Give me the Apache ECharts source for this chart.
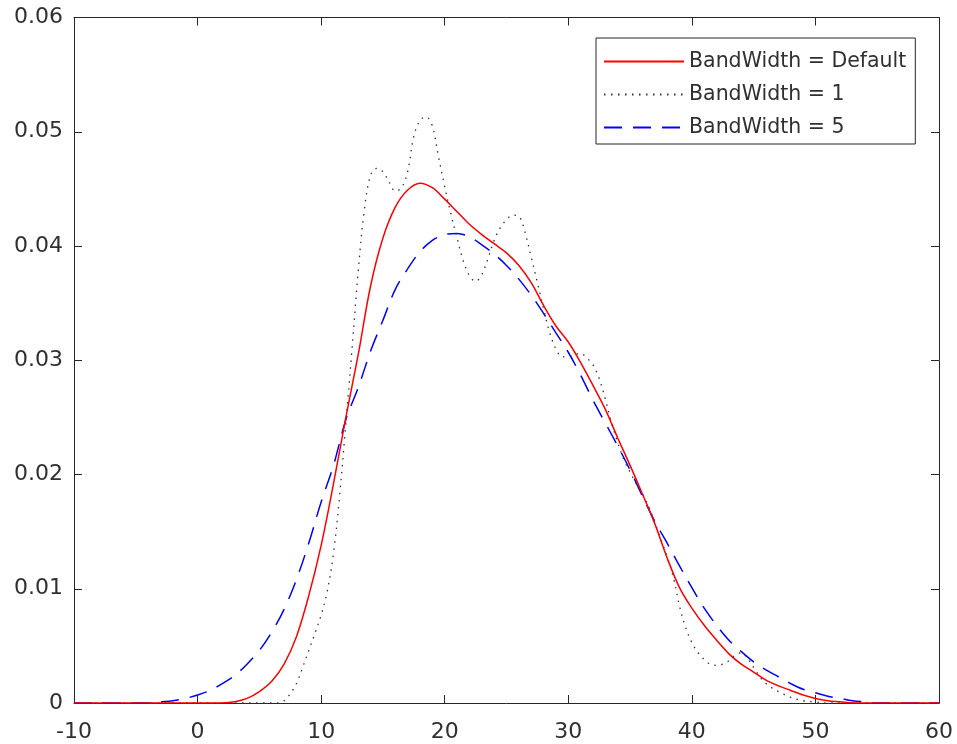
<!DOCTYPE html>
<html>
<head>
<meta charset="utf-8">
<script src="https://cdn.jsdelivr.net/npm/echarts@6/dist/echarts.min.js"></script>
<style>
html,body{margin:0;padding:0;background:#fff;}
#chart{width:957px;height:744px;}
</style>
</head>
<body>
<div id="chart"></div>
<script>
// Integer x grid for the Default and BandWidth=5 estimates
var xInt = [];
for (var v = -10; v <= 60; v++) xInt.push(v);

var yDefault = [
  0,0,0,0,0,0,0,0,0,0,0,0,0,            // -10 .. 2
  0.0001,0.0004,0.0010,0.0019,0.0034,0.0058,0.0094,0.0138,  // 3 .. 10
  0.0192,0.0250,0.0305,0.0365,0.0407,0.0434,0.0449,0.0455,  // 11 .. 18
  0.0451,0.0441,0.0430,0.0419,0.0410,0.0402,0.0394,0.0383,  // 19 .. 26
  0.0368,0.0348,0.0330,0.0316,0.0298,0.0278,0.0257,0.0232,  // 27 .. 34
  0.0208,0.0183,0.0157,0.0127,0.0101,0.0083,0.0068,0.0055,  // 35 .. 42
  0.0043,0.0034,0.0027,0.0020,0.0015,0.0011,0.0007,0.0004,  // 43 .. 50
  0.0002,0.0001,0,0,0,0,0,0,0,0                             // 51 .. 60
];

var yBw5 = [
  0,0,0,0,0,0,0,                        // -10 .. -4
  0.0001,0.0002,0.0004,0.0007,0.0011,0.0017,0.0024,0.0034,  // -3 .. 4
  0.0046,0.0062,0.0082,0.0108,0.0140,0.0176,0.0208,0.0248,  // 5 .. 12
  0.0276,0.0308,0.0335,0.0362,0.0380,0.0395,0.0405,0.0410,  // 13 .. 20
  0.0411,0.0408,0.0401,0.0393,0.0383,0.0371,0.0357,0.0341,  // 21 .. 28
  0.0324,0.0307,0.0287,0.0265,0.0245,0.0225,0.0204,0.0181,  // 29 .. 36
  0.0159,0.0140,0.0120,0.0101,0.0083,0.0068,0.0055,0.0045,  // 37 .. 44
  0.0036,0.0029,0.0023,0.0017,0.0012,0.0009,0.0006,0.0004,  // 45 .. 52
  0.0002,0.0001,0,0,0,0,0,0                                 // 53 .. 60
];

// Finer x grid for the BandWidth=1 estimate
var xFine = [-10,-9,-8,-7,-6,-5,-4,-3,-2,-1,0,1,2,3,4,5,6,
  6.5,7,7.5,8,8.5,9,9.5,10,10.5,11,11.5,12,12.5,13,13.5,14,14.5,15,15.5,16,16.5,
  17,17.5,18,18.5,19,19.5,20,20.5,21,21.5,22,22.5,23,23.5,24,24.5,25,25.5,26,26.5,
  27,27.5,28,28.5,29,29.5,30,30.5,31,31.5,32,32.5,33,33.5,34,34.5,35,35.5,36,36.5,
  37,37.5,38,38.5,39,39.5,40,40.5,41,41.5,42,42.5,43,43.5,44,44.5,45,45.5,46,
  47,48,49,50,51,52,53,54,55,56,57,58,59,60];

var yBw1 = [0,0,0,0,0,0,0,0,0,0,0,0,0,0,0,0,0,
  0,0.0002,0.0008,0.0017,0.0031,0.0046,0.0061,0.0077,0.0098,0.0131,0.0182,0.0245,0.0310,0.0378,0.0432,0.0462,0.0468,0.0465,0.0456,0.0448,0.0451,
  0.0465,0.0496,0.0510,0.0513,0.0505,0.0478,0.0452,0.0428,0.0407,0.0387,0.0374,0.0369,0.0375,0.0389,0.0405,0.0416,0.0423,0.0427,0.0426,0.0412,
  0.0390,0.0368,0.0345,0.0324,0.0310,0.0303,0.0303,0.0305,0.0306,0.0302,0.0296,0.0284,0.0266,0.0245,0.0228,0.0213,0.0202,0.0192,0.0183,0.0172,
  0.0158,0.0143,0.0128,0.0110,0.0085,0.0066,0.0053,0.0044,0.0038,0.0034,0.0033,0.0034,0.0037,0.0042,0.0044,0.0039,0.0031,0.0023,0.0017,
  0.0010,0.0005,0.0002,0.0001,0,0,0,0,0,0,0,0,0,0];

var seriesNames = ['BandWidth = Default', 'BandWidth = 1', 'BandWidth = 5'];
var xTicks = { min: -10, max: 60, interval: 10 };
var yTicks = { min: 0, max: 0.06, interval: 0.01 };

function zip(xs, ys) { return xs.map(function (x, i) { return [x, ys[i]]; }); }

var FONT = 'DejaVu Sans';
var AX = '#262626';
var TXT = '#303030';

var chart = echarts.init(document.getElementById('chart'), null, { renderer: 'canvas' });

function xAx(pos, show) {
  return {
    type: 'value', position: pos, min: xTicks.min, max: xTicks.max, interval: xTicks.interval,
    axisLine: { show: true, onZero: false, lineStyle: { color: AX, width: 1 } },
    axisTick: { show: true, inside: true, length: 8, lineStyle: { color: AX, width: 1 } },
    axisLabel: { show: show, color: TXT, fontFamily: FONT, fontSize: 22, margin: 18 },
    splitLine: { show: false }
  };
}
function yAx(pos, show) {
  return {
    type: 'value', position: pos, min: yTicks.min, max: yTicks.max, interval: yTicks.interval,
    axisLine: { show: true, onZero: false, lineStyle: { color: AX, width: 1 } },
    axisTick: { show: true, inside: true, length: 8, lineStyle: { color: AX, width: 1 } },
    axisLabel: { show: show, color: TXT, fontFamily: FONT, fontSize: 22, margin: 11 },
    splitLine: { show: false }
  };
}

chart.setOption({
  animation: false,
  backgroundColor: '#ffffff',
  grid: { left: 74, right: 18, top: 17.5, bottom: 41, containLabel: false },
  xAxis: [xAx('bottom', true), xAx('top', false)],
  yAxis: [yAx('left', true), yAx('right', false)],
  legend: {
    orient: 'vertical', left: 596, top: 38,
    backgroundColor: '#ffffff', borderColor: AX, borderWidth: 1,
    padding: [13, 9, 6, 7],
    itemWidth: 80, itemHeight: 16, itemGap: 12,
    itemStyle: { opacity: 0 },
    textStyle: { color: TXT, fontFamily: FONT, fontSize: 20.5 },
    data: seriesNames
  },
  series: [
    {
      name: seriesNames[0], type: 'line', data: zip(xInt, yDefault),
      smooth: 0.35, symbol: 'none', xAxisIndex: 0, yAxisIndex: 0,
      lineStyle: { color: '#ff0000', width: 1.5, type: 'solid' },
      itemStyle: { color: '#ff0000' }, z: 3
    },
    {
      name: seriesNames[1], type: 'line', data: zip(xFine, yBw1),
      smooth: 0.35, symbol: 'none', xAxisIndex: 0, yAxisIndex: 0,
      lineStyle: { color: '#333333', width: 1.3, type: [1.5, 5.5] },
      itemStyle: { color: '#333333' }, z: 2
    },
    {
      name: seriesNames[2], type: 'line', data: zip(xInt, yBw5),
      smooth: 0.35, symbol: 'none', xAxisIndex: 0, yAxisIndex: 0,
      lineStyle: { color: '#0000ff', width: 1.5, type: [18, 11] },
      itemStyle: { color: '#0000ff' }, z: 1
    }
  ]
});
</script>
</body>
</html>
